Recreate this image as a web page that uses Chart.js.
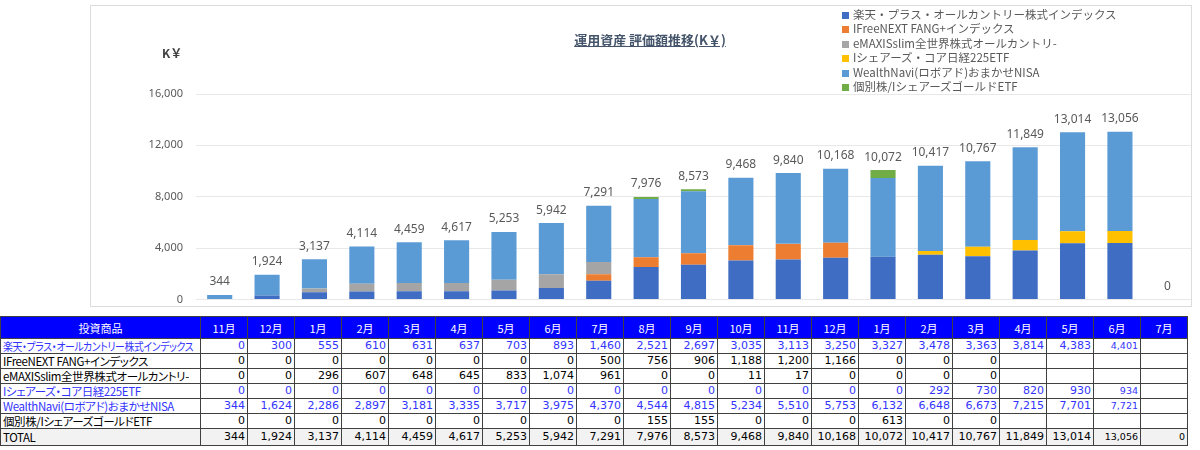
<!DOCTYPE html>
<html>
<head>
<meta charset="utf-8">
<script src="https://cdn.jsdelivr.net/npm/chart.js@4"></script>
<style>
  body { margin: 0; background: #fff; font-family: "Noto Sans CJK JP", "Noto Sans", sans-serif; }
  #frame { position: absolute; left: 90px; top: 5px; width: 1100px; height: 300px; border: 1px solid #dcdcdc; }
  #frame canvas { display: block; }
  #title { position: absolute; left: 450px; width: 400px; top: 30px; text-align: center; font-size: 13px; font-weight: bold; color: #44546a; text-decoration: underline; }
  #unit { position: absolute; left: 162px; top: 44px; font-size: 12px; font-weight: bold; color: #404040; }
  #legend { position: absolute; left: 842px; top: 7px; font-size: 11.5px; color: #595959; }
  #legend div { height: 14.4px; line-height: 14.4px; white-space: nowrap; }
  #legend span { display: inline-block; width: 7px; height: 7px; margin-right: 4px; vertical-align: 0px; }
  #tbl { position: absolute; left: 0; top: 316px; width: 1188px; border-collapse: collapse; table-layout: fixed; font-size: 11px; font-family: "DejaVu Sans", sans-serif; }
  #tbl td, #tbl th { border: 1px solid #404040; padding: 0 2px; height: 14px; line-height: 14px; overflow: hidden; white-space: nowrap; }
  #tbl th { background: #0000ff; color: #fff; font-weight: normal; height: 21px; text-align: center; font-family: "Noto Sans CJK JP", sans-serif; font-size: 11px; }
  #tbl td { text-align: right; }
  #tbl td.name { text-align: left; font-family: "Noto Sans CJK JP", sans-serif; font-size: 11.5px; font-feature-settings: "palt"; letter-spacing: -0.4px; }
  #tbl td.name span { display: inline-block; transform-origin: left center; }
  #tbl tr.total td { background: #f2f2f2; height: 16px; }
  #tbl td.small { font-size: 9.5px; }
</style>
</head>
<body>
<div id="frame"><canvas id="assetChart"></canvas></div>
<div id="title">運用資産 評価額推移(K￥)</div>
<div id="unit">K￥</div>
<div id="legend"></div>
<table id="tbl"></table>
<script>
var months = ['11月','12月','1月','2月','3月','4月','5月','6月','7月','8月','9月','10月','11月','12月','1月','2月','3月','4月','5月','6月','7月'];

var rakuten = [0,300,555,610,631,637,703,893,1460,2521,2697,3035,3113,3250,3327,3478,3363,3814,4383,4401,null];
var fang    = [0,0,0,0,0,0,0,0,500,756,906,1188,1200,1166,0,0,0,null,null,null,null];
var emaxis  = [0,0,296,607,648,645,833,1074,961,0,0,11,17,0,0,0,0,null,null,null,null];
var ishares = [0,0,0,0,0,0,0,0,0,0,0,0,0,0,0,292,730,820,930,934,null];
var wealth  = [344,1624,2286,2897,3181,3335,3717,3975,4370,4544,4815,5234,5510,5753,6132,6648,6673,7215,7701,7721,null];
var kobetsu = [0,0,0,0,0,0,0,0,0,155,155,0,0,0,613,0,0,null,null,null,null];
var totals  = [344,1924,3137,4114,4459,4617,5253,5942,7291,7976,8573,9468,9840,10168,10072,10417,10767,11849,13014,13056,0];

var yTicks = [0, 4000, 8000, 12000, 16000];

var names = ['楽天・プラス・オールカントリー株式インデックス', 'IFreeNEXT FANG+インデックス', 'eMAXISslim全世界株式オールカントリ-', 'Iシェアーズ・コア日経225ETF', 'WealthNavi(ロボアド)おまかせNISA', '個別株/IシェアーズゴールドETF'];
var tableNames = ['楽天・プラス・オールカントリー株式インデックス', 'IFreeNEXT FANG+インデックス', 'eMAXISslim全世界株式オールカントリ-', 'Iシェアーズ・コア日経225ETF', 'WealthNavi(ロボアド)おまかせNISA', '個別株/IシェアーズゴールドETF'];
var series = [rakuten, fang, emaxis, ishares, wealth, kobetsu];
var colors = ['#3f6dc4', '#ed7d31', '#a5a5a5', '#ffc000', '#5b9bd5', '#70ad47'];
var rowColors = ['#3333ff', '#000000', '#000000', '#3333ff', '#3333ff', '#000000'];

function fmt(v) {
  if (v === null || v === undefined) return '';
  return v.toLocaleString('en-US');
}

// legend
var legendHtml = '';
for (var i = 0; i < names.length; i++) {
  legendHtml += '<div><span style="background:' + colors[i] + '"></span>' + names[i] + '</div>';
}
document.getElementById('legend').innerHTML = legendHtml;

// table
var html = '<colgroup><col style="width:200px">';
for (var c = 0; c < months.length; c++) html += '<col style="width:47px">';
html += '</colgroup><tr><th>投資商品</th>';
for (var c = 0; c < months.length; c++) html += '<th>' + months[c] + '</th>';
html += '</tr>';
for (var r = 0; r < series.length; r++) {
  html += '<tr style="color:' + rowColors[r] + '"><td class="name"><span>' + tableNames[r] + '</span></td>';
  for (var c = 0; c < months.length; c++) {
    html += '<td' + (c === 19 ? ' class="small"' : '') + '>' + fmt(series[r][c]) + '</td>';
  }
  html += '</tr>';
}
html += '<tr class="total"><td class="name"><span>TOTAL</span></td>';
for (var c = 0; c < months.length; c++) {
  html += '<td' + (c >= 19 ? ' class="small"' : '') + '>' + fmt(totals[c]) + '</td>';
}
html += '</tr>';
document.getElementById('tbl').innerHTML = html;

// squeeze long product names into the first column
var nameSpans = document.querySelectorAll('#tbl td.name span');
for (var k = 0; k < nameSpans.length; k++) {
  var w = nameSpans[k].offsetWidth;
  if (w > 190) nameSpans[k].style.transform = 'scaleX(' + (190 / w) + ')';
}

// total labels above each stack
var totalLabels = {
  id: 'totalLabels',
  afterDatasetsDraw: function(chart) {
    var ctx = chart.ctx;
    var xs = chart.scales.x, ys = chart.scales.y;
    ctx.save();
    ctx.font = '12px "Noto Sans", sans-serif';
    ctx.fillStyle = '#595959';
    ctx.textAlign = 'center';
    ctx.textBaseline = 'bottom';
    for (var i = 0; i < totals.length; i++) {
      ctx.fillText(fmt(totals[i]), xs.getPixelForValue(i), ys.getPixelForValue(totals[i]) - 7);
    }
    ctx.restore();
  }
};

var datasets = [];
for (var i = 0; i < series.length; i++) {
  datasets.push({
    label: names[i],
    data: series[i],
    backgroundColor: colors[i],
    borderWidth: 0,
    categoryPercentage: 1,
    barPercentage: 0.53
  });
}

var ctx = document.getElementById('assetChart').getContext('2d');
var assetChart = new Chart(ctx, {
  type: 'bar',
  data: { labels: months, datasets: datasets },
  plugins: [totalLabels],
  options: {
    responsive: true,
    maintainAspectRatio: false,
    animation: false,
    layout: { padding: { top: 88, bottom: 0, left: 0, right: 0 } },
    plugins: {
      legend: { display: false },
      tooltip: { enabled: false }
    },
    scales: {
      x: { stacked: true, display: false },
      y: {
        stacked: true,
        min: 0,
        max: 16000,
        afterBuildTicks: function(scale) {
          scale.ticks = yTicks.map(function(v) { return { value: v }; });
        },
        afterFit: function(scale) { scale.width = 105; },
        border: { display: false },
        grid: { color: '#e8e8e8', drawTicks: true, tickLength: 13, tickColor: 'rgba(0,0,0,0)' },
        ticks: {
          padding: 0,
          color: '#595959',
          font: { size: 11, family: 'Noto Sans' },
          callback: function(v) { return fmt(v); }
        }
      }
    }
  }
});
</script>
</body>
</html>
